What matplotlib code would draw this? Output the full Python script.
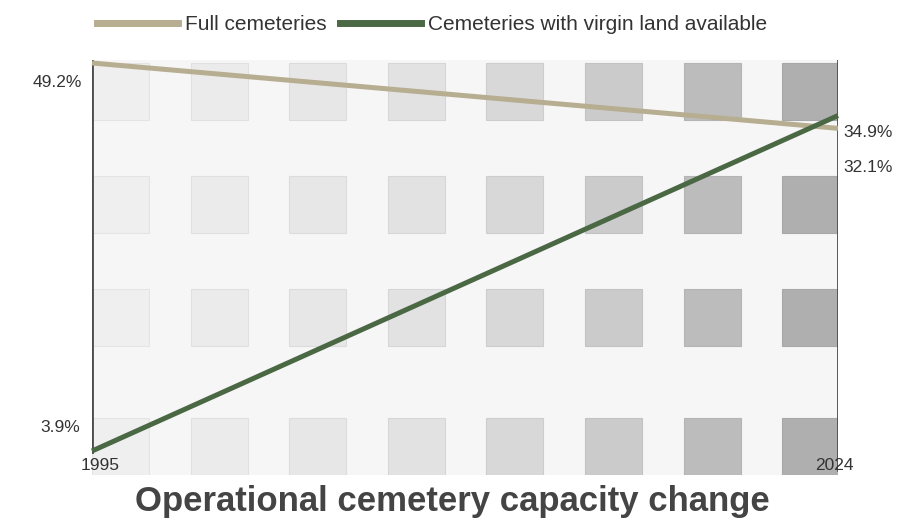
import matplotlib
matplotlib.use("Agg")
import matplotlib.pyplot as plt
from matplotlib.lines import Line2D
from matplotlib.patches import Rectangle

plt.rcParams["font.family"] = ["Liberation Sans", "DejaVu Sans"]

# data
years = [1995, 2024]
full = [49.2, 32.1]
virgin = [3.9, 34.9]
series_names = ["Full cemeteries", "Cemeteries with virgin land available"]
title = "Operational cemetery capacity change"

BEIGE = "#b7ad91"
GREEN = "#4a6844"
TEXT = "#333333"

W, H = 898, 529
fig = plt.figure(figsize=(W / 100, H / 100), dpi=100)
# panel spans x 92..838, y 60..475 (pixels from top)
ax = fig.add_axes([92 / W, 1 - 475 / H, 746 / W, 415 / H])
ax.set_facecolor("#f6f6f6")
for s in ax.spines.values():
    s.set_visible(False)

# decorative background tiles, darker to the right
tile_grays = ["#efefef", "#ebebeb", "#e7e7e7", "#e2e2e2",
              "#d8d8d8", "#cbcbcb", "#bcbcbc", "#afafaf"]
tile_edges = ["#e4e4e4", "#e0e0e0", "#dcdcdc", "#d6d6d6",
              "#cdcdcd", "#c2c2c2", "#b4b4b4", "#a8a8a8"]
tile_w = 57 / 746
tile_h = 57 / 415
col_pitch = 98.6 / 746
row_tops = [3, 116, 229, 358]  # px below panel top
for i, (g, e) in enumerate(zip(tile_grays, tile_edges)):
    for rt in row_tops:
        y0 = 1 - (rt + 57) / 415
        ax.add_patch(Rectangle((i * col_pitch, y0), tile_w, tile_h,
                               transform=ax.transAxes, facecolor=g,
                               edgecolor=e, lw=0.8, zorder=0.5))

ax.set_yscale("log")
ax.set_xlim(years[0], years[-1])
ax.set_ylim(3.334, 50.17)
ax.set_xticks([])
ax.tick_params(which="both", left=False, labelleft=False,
               bottom=False, labelbottom=False)
ax.minorticks_off()

# axis rules at both ends
ax.axvline(years[0], ymin=1 - 392 / 415, ymax=1, color="#4a4a4a", lw=2.0, zorder=2)
ax.axvline(years[-1], ymin=1 - 410 / 415, ymax=1, color="#4a4a4a", lw=2.0, zorder=2)

ax.plot(years, full, color=BEIGE, lw=3.6, solid_capstyle="butt", clip_on=False, zorder=3)
ax.plot(years, virgin, color=GREEN, lw=3.6, solid_capstyle="butt", clip_on=False, zorder=3)

# value labels (offsets in pixels from line ends)
lab = dict(textcoords="offset pixels", fontsize=12.5, color=TEXT, va="center")
ax.annotate(f"{full[0]}%", (years[0], full[0]), xytext=(-10, -20), ha="right", **lab)
ax.annotate(f"{virgin[0]}%", (years[0], virgin[0]), xytext=(-12, 23), ha="right", **lab)
ax.annotate(f"{virgin[-1]}%", (years[-1], virgin[-1]), xytext=(5, -17), ha="left", **lab)
ax.annotate(f"{full[-1]}%", (years[-1], full[-1]), xytext=(5, -39), ha="left", **lab)

# year labels at the bottom of each rule
yr = dict(xycoords=("data", "axes fraction"), textcoords="offset pixels",
          fontsize=12.5, color=TEXT, ha="center", va="center")
ax.annotate(str(years[0]), (years[0], 0), xytext=(8, 10), **yr)
ax.annotate(str(years[-1]), (years[-1], 0), xytext=(-4, 9), **yr)

handles = [Line2D([], [], color=BEIGE, lw=5),
           Line2D([], [], color=GREEN, lw=5)]
fig.legend(handles, series_names, loc="center", ncol=2,
           bbox_to_anchor=(432 / W, 1 - 25 / H), frameon=False,
           fontsize=15, handlelength=3.9, handletextpad=0.35,
           columnspacing=0.6, borderpad=0, labelcolor=TEXT)

fig.text(452 / W, 1 - 511 / H, title, ha="center", va="baseline",
         fontsize=25, fontweight="bold", color="#444444")

fig.savefig("out.png", dpi=100)
